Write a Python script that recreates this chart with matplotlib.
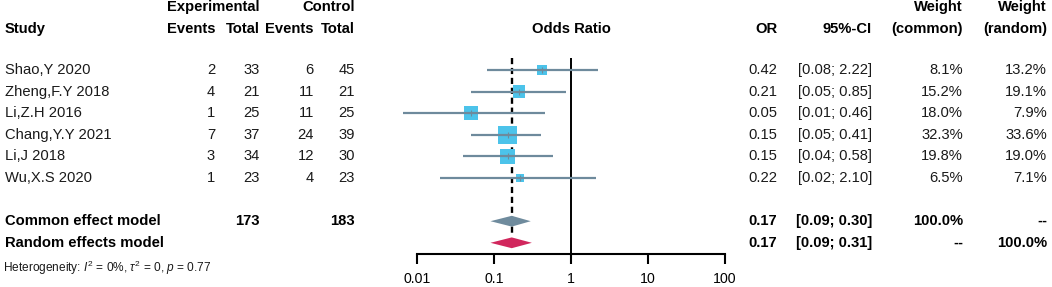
import matplotlib
matplotlib.use("Agg")
import matplotlib.pyplot as plt

plt.rcParams['font.family'] = ['Liberation Sans', 'DejaVu Sans']
plt.rcParams['mathtext.fontset'] = 'custom'
plt.rcParams['mathtext.rm'] = 'Liberation Sans'
plt.rcParams['mathtext.it'] = 'Liberation Sans:italic'

studies = ["Shao,Y 2020", "Zheng,F.Y 2018", "Li,Z.H 2016", "Chang,Y.Y 2021", "Li,J 2018", "Wu,X.S 2020"]
exp_events = [2, 4, 1, 7, 3, 1]
exp_total = [33, 21, 25, 37, 34, 23]
ctrl_events = [6, 11, 11, 24, 12, 4]
ctrl_total = [45, 21, 25, 39, 30, 23]
or_vals = [0.42, 0.21, 0.05, 0.15, 0.15, 0.22]
ci_low = [0.08, 0.05, 0.0066, 0.05, 0.04, 0.02]
ci_high = [2.22, 0.85, 0.46, 0.41, 0.58, 2.10]
w_common = [8.1, 15.2, 18.0, 32.3, 19.8, 6.5]
w_random = [13.2, 19.1, 7.9, 33.6, 19.0, 7.1]

summary_names = ["Common effect model", "Random effects model"]
summary_or = [0.17, 0.17]
summary_low = [0.09, 0.09]
summary_high = [0.30, 0.31]
summary_wc = ["100.0%", "--"]
summary_wr = ["--", "100.0%"]
total_exp = 173
total_ctrl = 183
x_ticks = [0.01, 0.1, 1, 10, 100]
tick_labels = ["0.01", "0.1", "1", "10", "100"]

W, H = 1052, 287
ROW0, ROWH = 70, 21.6
ylim = ((H - ROW0) / ROWH, -ROW0 / ROWH)
FS = 10.6

fig = plt.figure(figsize=(W / 100, H / 100), dpi=100)
ax = fig.add_axes([0, 0, 1, 1])
ax.set_xlim(0, W)
ax.set_ylim(*ylim)
ax.axis('off')

fa = fig.add_axes([417 / W, 0, 308 / W, 1])
fa.set_xscale('log')
fa.set_xlim(0.01, 100)
fa.set_ylim(*ylim)
fa.patch.set_visible(False)
for s in ['top', 'left', 'right']:
    fa.spines[s].set_visible(False)
fa.spines['bottom'].set_position(('data', 8.5))
fa.spines['bottom'].set_linewidth(1.5)
fa.set_yticks([])
fa.set_xticks(x_ticks)
fa.set_xticklabels(tick_labels, fontsize=10.2)
fa.minorticks_off()
fa.tick_params(axis='x', direction='out', length=7, width=1.5, pad=6)

blue = '#4CC3EA'
slate = '#6E8A9C'

# reference lines
fa.vlines(1, -0.55, 8.5, color='black', lw=1.4, zorder=1)
fa.vlines(summary_or[0], -0.55, 7.62, color='black', lw=1.7, linestyles=(0, (2.6, 1.6)), zorder=1)

rows = list(range(len(studies)))
fa.scatter(or_vals, rows, s=[5.4 * w for w in w_common], marker='s', color=blue, lw=0, zorder=2)
fa.hlines(rows, ci_low, ci_high, color=slate, lw=1.6, zorder=3, clip_on=False)
fa.scatter(or_vals, rows, s=18, marker='+', color=slate, lw=0.8, zorder=4)

# diamonds
for i, c in enumerate(['#6F8B9D', '#D1275D']):
    r = 7 + i
    h = 0.25
    fa.fill([summary_low[i], summary_or[i], summary_high[i], summary_or[i]],
            [r, r - h, r, r + h], color=c, lw=0, zorder=3)

fa.text(1, -1.9, "Odds Ratio", ha='center', va='center', fontsize=FS, fontweight='bold')

# headers
hy1, hy2 = -2.9, -1.9
bold = dict(fontsize=FS, fontweight='bold', va='center')
ax.text(260, hy1, "Experimental", ha='right', **bold)
ax.text(355, hy1, "Control", ha='right', **bold)
ax.text(5, hy2, "Study", ha='left', **bold)
for x, t in [(215, "Events"), (260, "Total"), (314, "Events"), (355, "Total"),
             (777, "OR"), (872, "95%-CI"), (963, "(common)"), (1047, "(random)")]:
    ax.text(x, hy2, t, ha='right', **bold)
ax.text(963, hy1, "Weight", ha='right', **bold)
ax.text(1047, hy1, "Weight", ha='right', **bold)

norm = dict(fontsize=FS, va='center', color='#1a1a1a')
for i, name in enumerate(studies):
    ax.text(5, i, name, ha='left', **norm)
    ax.text(215, i, str(exp_events[i]), ha='right', **norm)
    ax.text(260, i, str(exp_total[i]), ha='right', **norm)
    ax.text(314, i, str(ctrl_events[i]), ha='right', **norm)
    ax.text(355, i, str(ctrl_total[i]), ha='right', **norm)
    ax.text(777, i, f"{or_vals[i]:.2f}", ha='right', **norm)
    ax.text(872, i, f"[{ci_low[i]:.2f}; {ci_high[i]:.2f}]", ha='right', **norm)
    ax.text(963, i, f"{w_common[i]:.1f}%", ha='right', **norm)
    ax.text(1047, i, f"{w_random[i]:.1f}%", ha='right', **norm)

for i, name in enumerate(summary_names):
    r = 7 + i
    ax.text(5, r, name, ha='left', **bold)
    ax.text(777, r, f"{summary_or[i]:.2f}", ha='right', **bold)
    ax.text(872, r, f"[{summary_low[i]:.2f}; {summary_high[i]:.2f}]", ha='right', **bold)
    ax.text(963, r, summary_wc[i], ha='right', **bold)
    ax.text(1047, r, summary_wr[i], ha='right', **bold)
ax.text(260, 7, str(total_exp), ha='right', **bold)
ax.text(355, 7, str(total_ctrl), ha='right', **bold)

ax.text(3, 9.15, r"Heterogeneity: $I^2$ = 0%, $\tau^2$ = 0, $p$ = 0.77",
        ha='left', va='center', fontsize=8.6, color='#1a1a1a')

fig.savefig("out.png", dpi=100)
